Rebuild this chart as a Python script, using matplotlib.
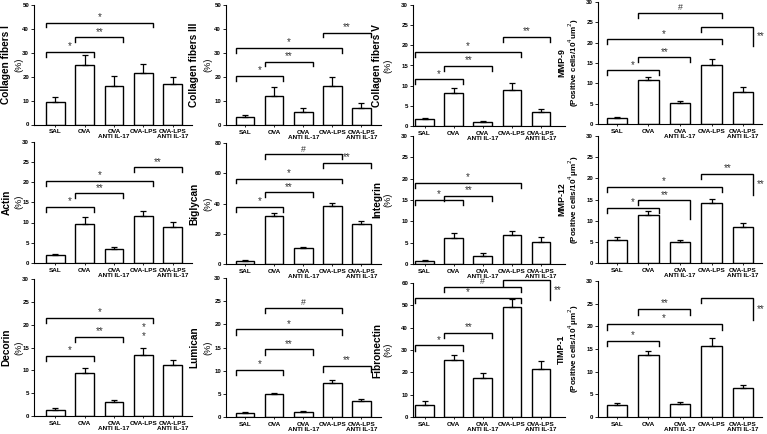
import matplotlib
matplotlib.use("Agg")
import matplotlib.pyplot as plt
import numpy as np

plt.rcParams['font.family'] = ['Liberation Sans', 'DejaVu Sans']

W, H = 767, 434

groups = ["SAL", "OVA", "OVA\nANTI IL-17", "OVA-LPS", "OVA-LPS\nANTI IL-17"]

# means and upper error (SEM)
col1_mean = [9.5, 25.1, 16.3, 21.6, 16.9]
col1_err = [1.8, 3.9, 3.9, 3.9, 3.1]
col3_mean = [3.5, 12.2, 5.3, 16.4, 6.9]
col3_err = [0.5, 3.5, 1.6, 3.7, 2.4]
col5_mean = [1.7, 8.1, 1.1, 8.9, 3.4]
col5_err = [0.4, 1.2, 0.2, 1.8, 0.7]
mmp9_mean = [1.4, 10.8, 5.1, 14.6, 7.8]
mmp9_err = [0.4, 0.8, 0.6, 1.5, 1.2]
actin_mean = [2.0, 9.6, 3.5, 11.6, 8.85]
actin_err = [0.3, 1.7, 0.35, 1.35, 1.35]
bigly_mean = [2.2, 31.9, 10.3, 38.2, 26.2]
bigly_err = [0.4, 1.5, 0.7, 2.2, 2.2]
integ_mean = [0.8, 6.2, 1.95, 6.8, 5.2]
integ_err = [0.15, 1.0, 0.55, 1.0, 1.2]
mmp12_mean = [5.5, 11.25, 5.0, 14.1, 8.6]
mmp12_err = [0.6, 1.05, 0.5, 1.1, 0.8]
decor_mean = [1.3, 9.5, 3.0, 13.3, 11.1]
decor_err = [0.4, 1.0, 0.5, 1.6, 1.1]
lumi_mean = [0.94, 4.9, 1.1, 7.35, 3.5]
lumi_err = [0.2, 0.3, 0.27, 0.55, 0.4]
fibro_mean = [5.5, 25.7, 17.6, 49.3, 21.6]
fibro_err = [1.5, 2.2, 2.1, 3.4, 3.5]
timp_mean = [2.7, 13.7, 2.8, 15.7, 6.4]
timp_err = [0.4, 0.9, 0.4, 1.7, 0.6]

# brackets: (from group, to group, height, label, right leg bottom or None, label place)
col1_br = [(0, 1, 30.4, '*', None, 'top'), (1, 2, 36.5, '**', None, 'top'), (0, 3, 42.6, '*', None, 'top')]
col3_br = [(0, 1, 20.4, '*', None, 'top'), (1, 2, 26.4, '**', None, 'top'),
           (0, 3, 32.2, '*', None, 'top'), (3, 4, 38.5, '**', None, 'top')]
col5_br = [(0, 1, 11.6, '*', None, 'top'), (1, 2, 14.9, '**', None, 'top'),
           (0, 3, 18.4, '*', None, 'top'), (3, 4, 22.1, '**', None, 'top')]
mmp9_br = [(0, 1, 13.2, '*', None, 'top'), (1, 2, 16.4, '**', None, 'top'), (0, 3, 20.8, '*', None, 'top'),
           (3, 4, 23.9, '**', 19.1, 'right'), (1, 3, 27.3, '#', None, 'top')]
actin_br = [(0, 1, 13.8, '*', None, 'top'), (1, 2, 17.2, '**', None, 'top'),
            (0, 3, 20.3, '*', None, 'top'), (3, 4, 23.6, '**', None, 'top')]
bigly_br = [(0, 1, 37.8, '*', None, 'top'), (1, 2, 47.3, '**', None, 'top'), (0, 3, 56.5, '*', None, 'top'),
            (3, 4, 66.8, '**', None, 'top'), (1, 3, 72.5, '#', None, 'top')]
integ_br = [(0, 1, 15.0, '*', None, 'top'), (1, 2, 15.9, '**', None, 'top'), (0, 3, 19.1, '*', None, 'top')]
mmp12_br = [(0, 1, 13.1, '*', None, 'top'), (1, 2, 14.8, '**', 10.5, 'top'), (0, 3, 18.0, '*', None, 'top'),
            (3, 4, 21.1, '**', 16.0, 'both')]
decor_br = [(0, 1, 13.2, '*', None, 'top'), (1, 2, 17.4, '**', None, 'top'), (0, 3, 21.5, '*', None, 'top')]
lumi_br = [(0, 1, 10.2, '*', None, 'top'), (1, 2, 14.6, '**', None, 'top'), (0, 3, 18.9, '*', None, 'top'),
           (1, 3, 23.6, '#', None, 'top'), (3, 4, 10.95, '**', None, 'top')]
fibro_br = [(0, 1, 32.1, '*', None, 'top'), (1, 2, 37.8, '**', None, 'top'), (0, 3, 53.4, '*', None, 'top'),
            (1, 3, 58.2, '#', None, 'top'), (3, 4, 61.2, '**', 52.2, 'right')]
timp_br = [(0, 1, 16.8, '*', None, 'top'), (0, 3, 20.5, '*', None, 'top'), (1, 2, 23.8, '**', None, 'top'),
           (3, 4, 26.3, '**', 21.4, 'right')]

pct = "(%)"
cells1 = "(Positive cells/10$^4$um$^2$)"
cells2 = "(Positive cells/10$^4$\u03bcm$^2$)"

# name, unit, mean, err, ymax, ystep, brackets, pixel box (left, top, right, bottom), xlim
panels = [
    ("Collagen fibers I", pct, col1_mean, col1_err, 50, 10, col1_br, (34, 5, 192, 124.5), (-0.73, 4.66)),
    ("Collagen fibers III", pct, col3_mean, col3_err, 50, 10, col3_br, (226, 5, 381, 125), (-0.65, 4.67)),
    ("Collagen fibers V", pct, col5_mean, col5_err, 30, 5, col5_br, (413, 5, 565, 126), (-0.4, 4.83)),
    ("MMP-9", cells1, mmp9_mean, mmp9_err, 30, 5, mmp9_br, (598, 2, 762, 124), (-0.6, 4.6)),
    ("Actin", pct, actin_mean, actin_err, 30, 5, actin_br, (34, 141.5, 192, 263), (-0.73, 4.66)),
    ("Biglycan", pct, bigly_mean, bigly_err, 80, 20, bigly_br, (226, 143, 381, 264), (-0.65, 4.67)),
    ("Integrin", pct, integ_mean, integ_err, 30, 5, integ_br, (413, 136, 565, 264), (-0.4, 4.83)),
    ("MMP-12", cells2, mmp12_mean, mmp12_err, 30, 5, mmp12_br, (598, 136, 762, 263), (-0.6, 4.6)),
    ("Decorin", pct, decor_mean, decor_err, 30, 5, decor_br, (34, 279, 192, 416), (-0.73, 4.66)),
    ("Lumican", pct, lumi_mean, lumi_err, 30, 5, lumi_br, (226, 278, 381, 417), (-0.65, 4.67)),
    ("Fibronectin", pct, fibro_mean, fibro_err, 60, 10, fibro_br, (413, 283, 565, 417), (-0.4, 4.83)),
    ("TIMP-1", cells2, timp_mean, timp_err, 30, 5, timp_br, (598, 281, 762, 417), (-0.6, 4.6)),
]

# offsets (px) of the two label lines from the left spine, per column
label_off = {34: (27.5, 15), 226: (31.5, 18), 413: (36, 25), 598: (36.5, 24.5)}

BW = 0.64
fig = plt.figure(figsize=(W / 100, H / 100), dpi=100)


def bracket(ax, i, j, y, lab, rbot, where, ymax):
    d = 0.04 * ymax
    x0, x1 = i - BW / 2, j + BW / 2
    y1 = rbot if rbot is not None else y - d
    ax.plot([x0, x0, x1, x1], [y - d, y, y, y1], color='k', lw=1.0, clip_on=False,
            solid_joinstyle='miter')
    fs = 6.3 if lab == '#' else 7
    if where in ('top', 'both'):
        ax.text((x0 + x1) / 2, y + 0.005 * ymax, lab, ha='center', va='bottom',
                fontsize=fs, color='#333333', clip_on=False)
    if where in ('right', 'both'):
        ax.text(x1 + 0.12, (y + y1) / 2, lab, ha='left', va='center',
                fontsize=fs, color='#333333', clip_on=False)


for name, unit, mean, err, ymax, ystep, brs, box, xl in panels:
    l, t, r, b = box
    ax = fig.add_axes([l / W, 1 - b / H, (r - l) / W, (b - t) / H])
    x = np.arange(len(groups))
    ax.bar(x, mean, width=BW, color='white', edgecolor='k', linewidth=1.0, zorder=2)
    ax.errorbar(x, mean, yerr=[np.zeros(len(err)), err], fmt='none', ecolor='k',
                elinewidth=0.9, capsize=2.2, capthick=0.9, zorder=3)
    ax.set_xlim(*xl)
    ax.set_ylim(0, ymax)
    ax.set_yticks(np.arange(0, ymax + 0.1, ystep))
    ax.set_xticks(x)
    ax.set_xticklabels(groups, fontsize=4.6, fontweight='bold', linespacing=1.0)
    for lbl in ax.get_yticklabels():
        lbl.set_fontweight('bold')
    ax.tick_params(axis='y', labelsize=4.4, length=2, width=0.6, pad=1.5)
    ax.tick_params(axis='x', length=1.5, width=0.6, pad=2)
    ax.spines['top'].set_visible(False)
    ax.spines['right'].set_visible(False)
    ax.spines['left'].set_linewidth(0.8)
    ax.spines['bottom'].set_linewidth(0.8)
    ax.patch.set_alpha(0)

    o1, o2 = label_off[l]
    cell_unit = unit != pct
    ax.annotate(name, xy=(0, 0.5), xycoords='axes fraction', xytext=(-o1 * 0.72, 0),
                textcoords='offset points', rotation=90, ha='center', va='center',
                fontsize=6.4 if cell_unit else 7.3, fontweight='bold')
    ax.annotate(unit, xy=(0, 0.5), xycoords='axes fraction', xytext=(-o2 * 0.72, 0),
                textcoords='offset points', rotation=90, ha='center', va='center',
                fontsize=5.8 if cell_unit else 6.6, fontweight='bold' if cell_unit else 'normal')

    for i, j, y, lab, rbot, where in brs:
        bracket(ax, i, j, y, lab, rbot, where, ymax)

    if name == "Decorin":
        # stacked asterisks above the OVA-LPS bar
        ax.text(3, 16.4, "*\n*", ha='center', va='bottom', fontsize=7, color='#333333',
                linespacing=0.9)

fig.savefig("out.png", dpi=100)
